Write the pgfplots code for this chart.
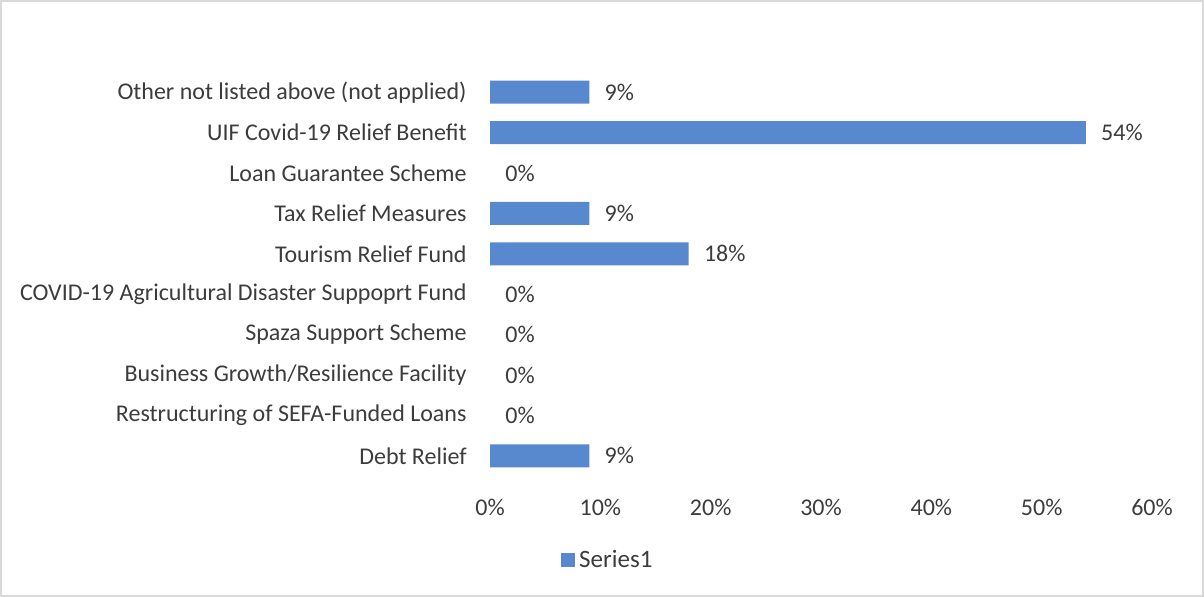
\documentclass[border=0pt]{standalone}
\usepackage{pgfplots}
\usepackage{pgfplotstable}
\pgfplotsset{compat=1.18}
\usepackage{fontspec}
\setmainfont{Carlito}
\definecolor{barblue}{RGB}{88,136,206}
\definecolor{txt}{RGB}{60,60,60}
\definecolor{frame}{RGB}{217,217,217}
\pgfplotstableread{
y v
0 9
1 0
2 0
3 0
4 0
5 18
6 9
7 0
8 54
9 9
}\datatable
\begin{document}
\begin{tikzpicture}
\useasboundingbox (0,0) rectangle (602pt,298.5pt);
\draw[frame, line width=0.8pt] (0.4pt,0.4pt) rectangle (601.6pt,298.1pt);
\begin{axis}[
  at={(245pt,60.5pt)}, anchor=south west,
  scale only axis, width=331pt, height=202pt,
  xbar, bar width=11.5pt, bar shift=0pt,
  xmin=0, xmax=60, ymin=-0.5, ymax=9.5,
  xtick={0,10,...,60},
  xticklabel={\pgfmathprintnumber{\tick}\%},
  ytick={0,...,9},
  yticklabels={Debt Relief,Restructuring of SEFA-Funded Loans,Business Growth/Resilience Facility,Spaza Support Scheme,COVID-19 Agricultural Disaster Suppoprt Fund,Tourism Relief Fund,Tax Relief Measures,Loan Guarantee Scheme,UIF Covid-19 Relief Benefit,Other not listed above (not applied)},
  axis line style={draw=none},
  major tick length=0pt,
  /pgf/number format/assume math mode=true,
  tick label style={font=\fontsize{12pt}{14pt}\selectfont, text=txt},
  yticklabel style={anchor=east, inner sep=0pt, xshift=-11.5pt},
  xticklabel style={anchor=center, inner sep=0pt, yshift=-15.5pt},
  nodes near coords={\pgfmathprintnumber{\pgfplotspointmeta}\%},
  nodes near coords style={anchor=west, inner sep=0pt, xshift=7.5pt, font=\fontsize{12pt}{14pt}\selectfont, text=txt},
  point meta=x,
  legend style={at={(0.1795,-0.208)}, anchor=center, draw=none, fill=none,
    font=\fontsize{12.5pt}{14pt}\selectfont, text=txt, inner sep=0pt},
  legend image code/.code={\fill[barblue] (0pt,-3.5pt) rectangle (7pt,3.5pt);},
  clip=false,
]
\addplot[fill=barblue, draw=none, restrict x to domain=0.5:100] table[x=v, y=y] {\datatable};
\addlegendentry{Series1}
\addplot[fill=none, draw=none, forget plot, restrict x to domain=-1:0.5] table[x=v, y=y] {\datatable};
\end{axis}
\end{tikzpicture}
\end{document}
